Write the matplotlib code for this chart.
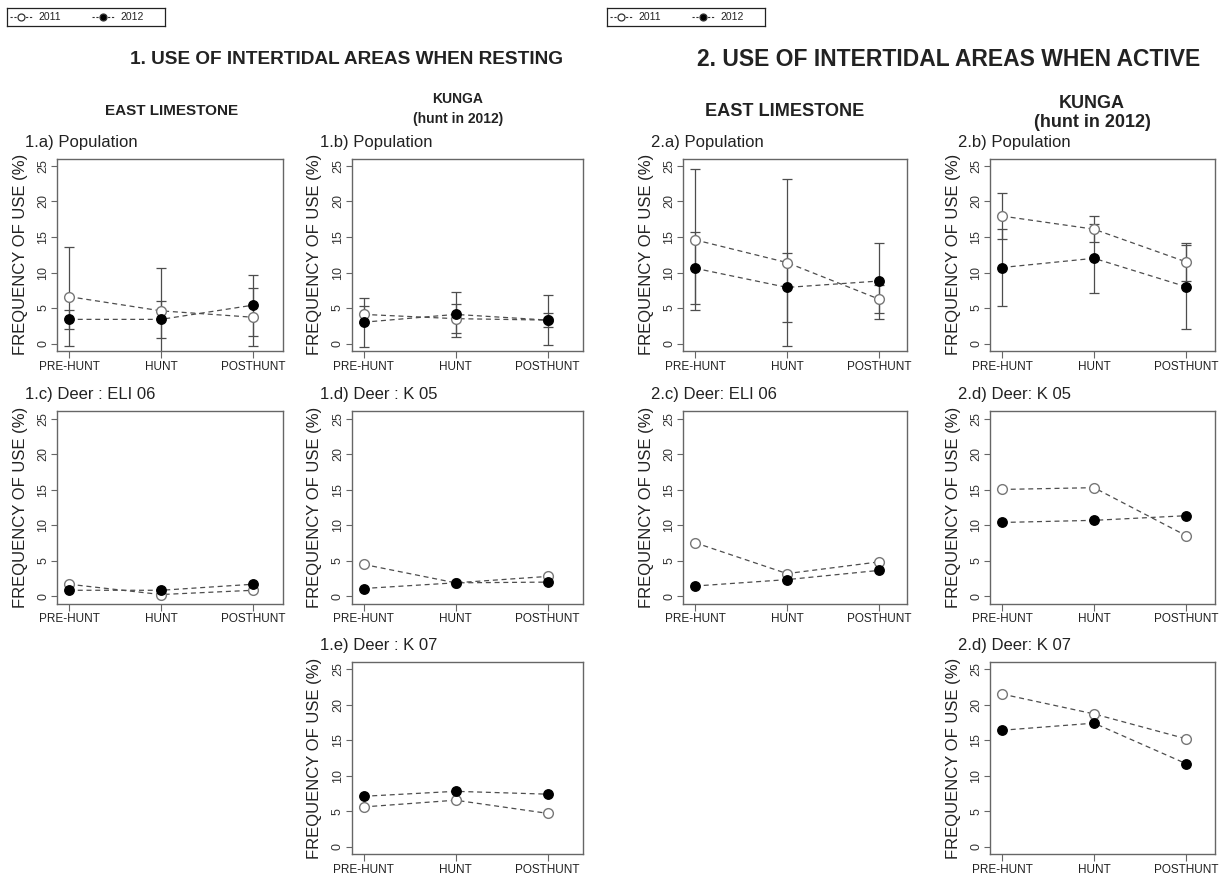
import numpy as np
import matplotlib.pyplot as plt

plt.rcParams['font.family'] = ['Liberation Sans', 'DejaVu Sans']

periods = ['PRE-HUNT', 'HUNT', 'POSTHUNT']
years = ['2011', '2012']
x = np.arange(1, 4)

# 1. resting -- population means with error bars
rest_a_2011 = [6.6, 4.6, 3.7]
rest_a_2011_err = [6.95, 6.0, 4.05]
rest_a_2012 = [3.4, 3.4, 5.4]
rest_a_2012_err = [1.35, 2.6, 4.3]

rest_b_2011 = [4.1, 3.5, 3.3]
rest_b_2011_err = [1.17, 2.0, 3.5]
rest_b_2012 = [3.0, 4.1, 3.3]
rest_b_2012_err = [3.45, 3.2, 1.03]

# 1. resting -- single deer
rest_c_2011 = [1.7, 0.25, 0.85]
rest_c_2012 = [0.85, 0.85, 1.7]
rest_d_2011 = [4.5, 1.9, 2.8]
rest_d_2012 = [1.1, 1.9, 2.0]
rest_e_2011 = [5.6, 6.55, 4.7]
rest_e_2012 = [7.1, 7.8, 7.4]

# 2. active -- population means with error bars
act_a_2011 = [14.6, 11.4, 6.25]
act_a_2011_err = [9.95, 11.7, 2.0]
act_a_2012 = [10.6, 7.9, 8.8]
act_a_2012_err = [5.05, 4.8, 5.35]

act_b_2011 = [17.95, 16.1, 11.5]
act_b_2011_err = [3.3, 1.8, 2.7]
act_b_2012 = [10.7, 12.0, 8.0]
act_b_2012_err = [5.45, 4.9, 5.9]

# 2. active -- single deer
act_c_2011 = [7.55, 3.2, 4.85]
act_c_2012 = [1.45, 2.35, 3.65]
act_d_2011 = [15.05, 15.3, 8.55]
act_d_2012 = [10.4, 10.7, 11.35]
act_e_2011 = [21.5, 18.7, 15.2]
act_e_2012 = [16.4, 17.4, 11.7]

W, H = 1223, 877
fig = plt.figure(figsize=(W / 100, H / 100), dpi=100)

GREY = '#4d4d4d'
PX = 92.0  # pixels between categories


def panel(left, top, width, height, title, y11, y12, e11=None, e12=None):
    ax = fig.add_axes([left / W, 1 - (top + height) / H, width / W, height / H])
    if e11 is not None:
        ax.errorbar(x, y11, yerr=e11, fmt='none', ecolor=GREY, elinewidth=0.9,
                    capsize=3.5, capthick=0.9)
        ax.errorbar(x, y12, yerr=e12, fmt='none', ecolor=GREY, elinewidth=0.9,
                    capsize=3.5, capthick=0.9)
    ax.plot(x, y11, ls='--', dashes=(4, 3), color=GREY, lw=0.9, marker='o', ms=7,
            mfc='white', mec='#777777', mew=1.0)
    ax.plot(x, y12, ls='--', dashes=(4, 3), color=GREY, lw=0.9, marker='o', ms=6.8,
            mfc='black', mec='black')
    xlo = 1 - 12 / PX
    ax.set_xlim(xlo, xlo + width / PX)
    ax.set_ylim(-1.04, 26.04)
    ax.set_xticks(x, periods)
    ax.set_yticks([0, 5, 10, 15, 20, 25])
    for s in ax.spines.values():
        s.set_color('#666666')
        s.set_linewidth(1.0)
    ax.tick_params(axis='x', length=5, pad=2, labelsize=8.5, color='#666666', labelcolor='#222222')
    ax.tick_params(axis='y', length=4.5, pad=1, labelsize=9, color='#666666', labelcolor='#333333',
                   labelrotation=90)
    for lb in ax.get_yticklabels():
        lb.set_va('center')
    ax.set_ylabel('FREQUENCY OF USE (%)', fontsize=12, color='#222222')
    ax.yaxis.set_label_coords(-29 / width, 0.5)
    ax.text(-32 / width, 1 + 12 / height, title, transform=ax.transAxes, ha='left',
            va='baseline', fontsize=12, color='#222222')
    return ax


ph = 192.3
rows = [158.6, 411.4, 661.8]

panel(57, rows[0], 226, ph, '1.a) Population', rest_a_2011, rest_a_2012, rest_a_2011_err, rest_a_2012_err)
panel(351.5, rows[0], 231, ph, '1.b) Population', rest_b_2011, rest_b_2012, rest_b_2011_err, rest_b_2012_err)
panel(57, rows[1], 226, ph, '1.c) Deer : ELI 06', rest_c_2011, rest_c_2012)
panel(351.5, rows[1], 231, ph, '1.d) Deer : K 05', rest_d_2011, rest_d_2012)
panel(351.5, rows[2], 231, ph, '1.e) Deer : K 07', rest_e_2011, rest_e_2012)

panel(683, rows[0], 224, ph, '2.a) Population', act_a_2011, act_a_2012, act_a_2011_err, act_a_2012_err)
panel(990, rows[0], 225, ph, '2.b) Population', act_b_2011, act_b_2012, act_b_2011_err, act_b_2012_err)
panel(683, rows[1], 224, ph, '2.c) Deer: ELI 06', act_c_2011, act_c_2012)
panel(990, rows[1], 225, ph, '2.d) Deer: K 05', act_d_2011, act_d_2012)
panel(990, rows[2], 225, ph, '2.d) Deer: K 07', act_e_2011, act_e_2012)


def ftext(px, py, s, size, **kw):
    fig.text(px / W, 1 - py / H, s, fontsize=size, fontweight='bold', ha='center',
             va='center', color='#222222', **kw)


ftext(346, 60, '1. USE OF INTERTIDAL AREAS WHEN RESTING', 13.7)
ftext(949, 60, '2. USE OF INTERTIDAL AREAS WHEN ACTIVE', 16.5)
ftext(172, 111, 'EAST LIMESTONE', 11)
ftext(785, 111, 'EAST LIMESTONE', 13.1)
ftext(458, 109, 'KUNGA\n(hunt in 2012)', 10, linespacing=1.5)
ftext(1092, 113, 'KUNGA\n(hunt in 2012)', 13, linespacing=1.15)


# boxed legend above each half, drawn in its own pixel-scaled axes
def legend_box(left):
    lg = fig.add_axes([left / W, 1 - 26 / H, 158 / W, 18 / H])
    lg.set_xlim(0, 158)
    lg.set_ylim(0, 18)
    lg.set_xticks([])
    lg.set_yticks([])
    for s in lg.spines.values():
        s.set_color('#222222')
        s.set_linewidth(0.9)
    for hx, fc, lab in zip([3, 85], ['white', 'black'], years):
        lg.plot([hx, hx + 22], [9, 9], ls='--', dashes=(2, 1.5), color='#333333', lw=0.8)
        lg.plot([hx + 11], [9], marker='o', ms=5, mfc=fc, mec='#333333', mew=0.9)
        lg.text(hx + 28, 9, lab, fontsize=7.5, va='center', ha='left', color='#222222')


legend_box(7)
legend_box(607)

fig.savefig('out.png', dpi=100)
